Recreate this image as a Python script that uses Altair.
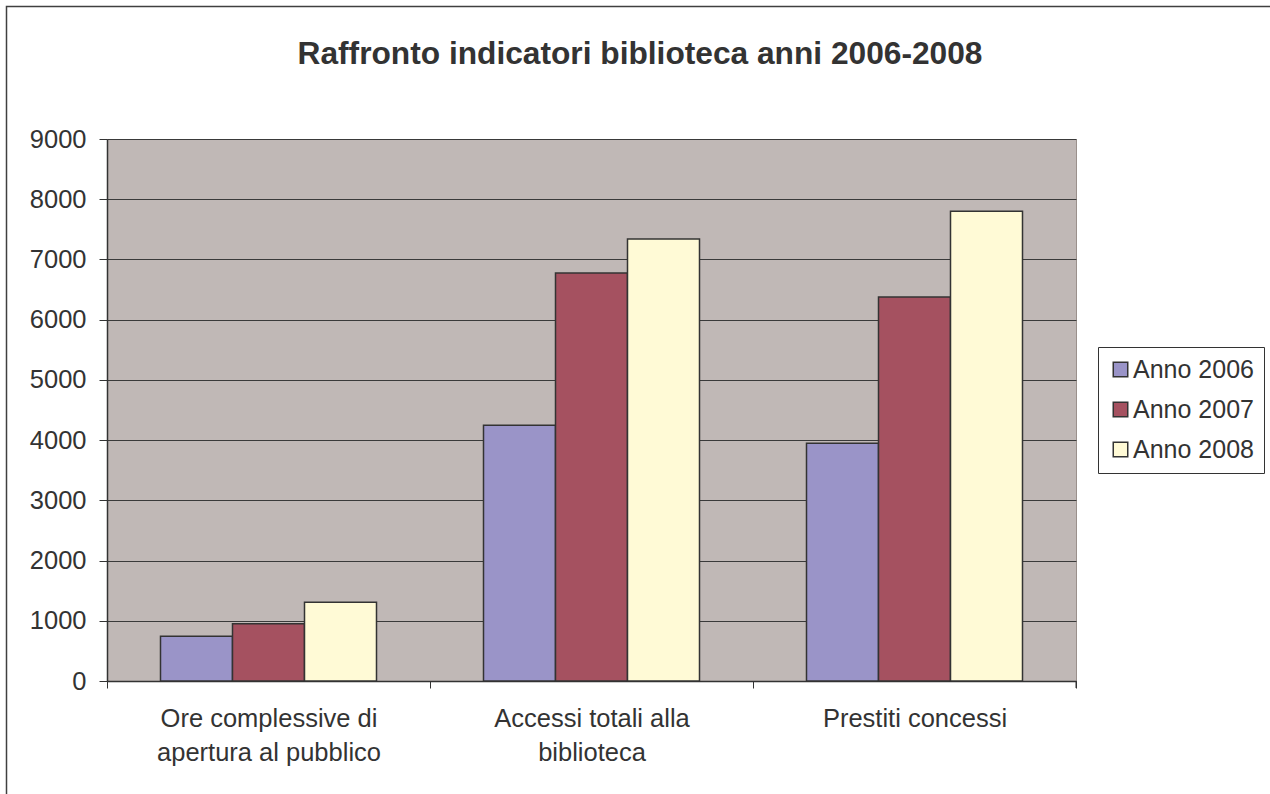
import altair as alt
import pandas as pd

# Library indicators, one value per category and year
categories = [
    "Ore complessive di|apertura al pubblico",
    "Accessi totali alla|biblioteca",
    "Prestiti concessi",
]
years = ["Anno 2006", "Anno 2007", "Anno 2008"]
anno_2006 = [745, 4246, 3947]
anno_2007 = [952, 6775, 6376]
anno_2008 = [1306, 7341, 7800]
chart_title = ["Raffronto indicatori biblioteca anni 2006-2008"]

colors = ["#9A94C8", "#A55160", "#FFFAD6"]
FONT = "Liberation Sans"
INK = "#333333"

rows = []
for series, year in zip([anno_2006, anno_2007, anno_2008], years):
    for cat, val in zip(categories, series):
        rows.append({"Categoria": cat, "Anno": year, "Valore": val})
df = pd.DataFrame(rows)

W, H = 969, 542

bars = alt.Chart(df).mark_bar(stroke=INK, strokeWidth=1.5).encode(
    x=alt.X(
        "Categoria:N",
        sort=categories,
        scale=alt.Scale(paddingInner=0, paddingOuter=0),
        axis=alt.Axis(
            title=None,
            labelAngle=0,
            labelExpr="split(datum.label, '|')",
            labelLimit=0,
            labelFont=FONT,
            labelFontSize=25.5,
            labelColor=INK,
            labelLineHeight=34,
            labelPadding=18,
            labelBaseline="top",
            tickBand="extent",
            tickSize=7,
            tickColor=INK,
            domainColor=INK,
            domainWidth=1.5,
            grid=False,
        ),
    ),
    xOffset=alt.XOffset(
        "Anno:N",
        sort=years,
        scale=alt.Scale(paddingInner=0, paddingOuter=0.743),
    ),
    y=alt.Y(
        "Valore:Q",
        scale=alt.Scale(domain=[0, 9000], nice=False),
        axis=alt.Axis(
            title=None,
            values=[0, 1000, 2000, 3000, 4000, 5000, 6000, 7000, 8000, 9000],
            format="d",
            labelFont=FONT,
            labelFontSize=25.5,
            labelColor=INK,
            labelPadding=13,
            tickSize=8,
            tickColor=INK,
            domainColor=INK,
            domainWidth=1.5,
            grid=True,
            gridColor="#3a3a3a",
            gridWidth=1,
        ),
    ),
    color=alt.Color(
        "Anno:N",
        sort=years,
        scale=alt.Scale(domain=years, range=colors),
        legend=alt.Legend(
            title=None,
            orient="none",
            legendX=991,
            legendY=208,
            symbolType="square",
            symbolSize=210,
            symbolStrokeColor=INK,
            symbolStrokeWidth=1.5,
            labelFont=FONT,
            labelFontSize=25,
            labelColor=INK,
            labelOffset=0,
            rowPadding=14,
            padding=10,
            strokeColor=INK,
            fillColor="white",
        ),
    ),
)

frame_df = pd.DataFrame({"k": [0]})

# Outer frame of the whole chart
frame = alt.Chart(frame_df).mark_rect(
    fillOpacity=0, stroke="#404040", strokeWidth=1.5
).encode(
    x=alt.value(-100.5), x2=alt.value(1300), y=alt.value(-132.5), y2=alt.value(900)
)

# Closing tick at the right end of the category axis
end_tick = alt.Chart(frame_df).mark_rule(color=INK, strokeWidth=1).encode(
    x=alt.value(W), y=alt.value(H), y2=alt.value(H + 7)
)

# Chart heading, centred on the full canvas
heading = alt.Chart(pd.DataFrame({"t": chart_title})).mark_text(
    font=FONT, fontSize=31.7, fontWeight="bold", color=INK,
    align="center", baseline="alphabetic",
).encode(
    text="t:N", x=alt.value(533), y=alt.value(-75.5)
)

chart = (
    alt.layer(frame, bars, end_tick, heading)
    .properties(
        width=W,
        height=H,
        padding={"left": 107, "top": 139, "right": 194, "bottom": 113},
        autosize=alt.AutoSizeParams(type="none"),
        background="white",
    )
    .configure_view(fill="#C0B8B6", stroke="#9a908c", strokeWidth=1)
)

chart.save("out.html", embed_options={"renderer": "svg", "actions": False})
